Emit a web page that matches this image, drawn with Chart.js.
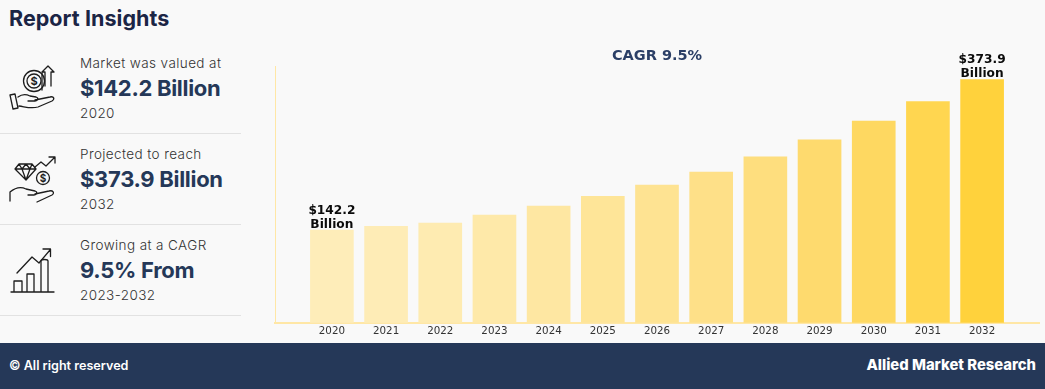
<!DOCTYPE html>
<html>
<head>
<meta charset="utf-8">
<script src="https://cdn.jsdelivr.net/npm/chart.js@4"></script>
<style>
html, body { margin: 0; padding: 0; background: #f9f9f9; }
body { width: 1045px; height: 389px; position: relative; overflow: hidden; font-family: Inter, sans-serif; }
.t { position: absolute; white-space: nowrap; line-height: 1; }
.head { left: 9px; top: 8px; font-size: 21.5px; font-weight: 700; color: #1b2545; letter-spacing: 0.05px; }
.small { left: 80px; font-size: 13.5px; font-weight: 300; color: #333; letter-spacing: 0.4px; }
.big { left: 80px; font-size: 22px; font-weight: 700; color: #253858; letter-spacing: -0.3px; }
.rule { position: absolute; left: 0; width: 241px; height: 1px; background: #e2e2e2; }
.icon { position: absolute; left: 8px; width: 48px; height: 48px; fill: none; stroke: #1d1d1d; stroke-width: 1.3; stroke-linecap: round; stroke-linejoin: round; }
#foot { position: absolute; left: 0; top: 343px; width: 1045px; height: 46px; background: #253858; }
#foot .t { color: #fff; font-weight: 600; }
#wrap { position: absolute; left: 270px; top: 40px; width: 775px; height: 300px; }
</style>
</head>
<body>
<div class="t head">Report Insights</div>

<svg class="icon" style="top:64px" viewBox="0 0 48 48">
  <circle cx="26" cy="17" r="10.5"/><circle cx="26" cy="17" r="7"/>
  <text x="26" y="21" font-size="11" font-weight="700" text-anchor="middle" fill="#1d1d1d" stroke="none">$</text>
  <path d="M37 22V8h-3l6-6 6 6h-3v14M34 26V9"/>
  <path d="M2 31l5-1 3 14-5 1zM10 33c4-3 8-3 12-1l6 1c3 1 2 4-1 4h-7M27 36l15-3c4-1 5 2 2 4l-14 6c-7 2-12 0-19-1"/>
</svg>
<svg class="icon" style="top:155px" viewBox="0 0 48 48">
  <path d="M11 9h13l4 5-10 11L7 14zM7 14h21M14 14l4 11 4-11M11 9l3 5 4-5 4 5 2-5"/>
  <path d="M27 12l6-5 5 4 9-9M41 2h6v6"/>
  <circle cx="35" cy="23" r="6.5"/>
  <text x="35" y="27" font-size="10" font-weight="700" text-anchor="middle" fill="#1d1d1d" stroke="none">$</text>
  <path d="M2 46V37c6-5 12-5 16-3l9 2c3 1 2 4-1 4h-6M27 39l14-3c4-1 6 2 3 4l-15 7"/>
</svg>
<svg class="icon" style="top:246px" viewBox="0 0 48 48">
  <path d="M3 46h43M6 46V35h8v11M19 46V28h7v18M33 46V15c0-2 7-2 7 0v31"/>
  <path d="M9 27l15-16 7 6 11-13M35 3h7.500v7.500"/>
</svg>

<div class="t small" style="top:57px">Market was valued at</div>
<div class="t big" style="top:77px">$142.2 Billion</div>
<div class="t small" style="top:107px">2020</div>
<div class="rule" style="top:133px"></div>

<div class="t small" style="top:148px">Projected to reach</div>
<div class="t big" style="top:168px">$373.9 Billion</div>
<div class="t small" style="top:198px">2032</div>
<div class="rule" style="top:224px"></div>

<div class="t small" style="top:239px">Growing at a CAGR</div>
<div class="t big" style="top:259px">9.5% From</div>
<div class="t small" style="top:289px">2023-2032</div>
<div class="rule" style="top:315px"></div>

<div id="wrap"><canvas id="marketChart"></canvas></div>

<div id="foot">
  <div class="t" style="left:9px;top:17px;font-size:12.6px">© All right reserved</div>
  <div class="t" style="right:9px;top:15px;font-size:14.8px;font-weight:800">Allied Market Research</div>
</div>

<script>
const years = ['2020', '2021', '2022', '2023', '2024', '2025', '2026', '2027', '2028', '2029', '2030', '2031', '2032'];
const revenue = [142.2, 148, 153, 165.5, 179.4, 194.4, 211.5, 231.6, 254.8, 281.2, 309.8, 340, 373.9];
const barColors = ['#feedb9', '#feecb6', '#feebb1', '#fee9a9', '#fee7a2', '#fee598', '#fee392', '#fee088', '#fede7e', '#feda6e', '#fed861', '#ffd650', '#ffd23c'];

// values shown above the first and last bars
const barLabels = {
    0: ['$142.2', 'Billion'],
    12: ['$373.9', 'Billion']
};

const barLabelPlugin = {
    id: 'barLabels',
    afterDatasetsDraw(chart) {
        const ctx = chart.ctx;
        const meta = chart.getDatasetMeta(0);
        ctx.save();
        ctx.font = 'bold 12.2px "DejaVu Sans"';
        ctx.fillStyle = '#0b0b0b';
        ctx.textAlign = 'center';
        Object.keys(barLabels).forEach(i => {
            const bar = meta.data[i];
            ctx.fillText(barLabels[i][0], bar.x, bar.y - 16);
            ctx.fillText(barLabels[i][1], bar.x, bar.y - 2);
        });
        ctx.restore();
    }
};

new Chart(document.getElementById('marketChart').getContext('2d'), {
    type: 'bar',
    data: {
        datasets: [{
            data: years.map((year, i) => ({ x: i, y: revenue[i] })),
            backgroundColor: barColors,
            barThickness: 43
        }]
    },
    options: {
        animation: false,
        responsive: true,
        maintainAspectRatio: false,
        layout: { padding: { left: 5, right: 6, top: 0, bottom: 0 } },
        plugins: {
            legend: { display: false },
            tooltip: { enabled: false },
            title: {
                display: true,
                text: 'CAGR 9.5%',
                color: '#2b3f66',
                font: { family: '"DejaVu Sans"', size: 14.5, weight: 'bold' },
                padding: { top: 8, bottom: 1 }
            }
        },
        scales: {
            x: {
                type: 'linear',
                min: -1.05,
                max: 13.05,
                offset: false,
                grid: { display: false, drawTicks: false },
                border: { color: '#ffe7a6', width: 2 },
                ticks: {
                    stepSize: 1,
                    includeBounds: false,
                    maxRotation: 0,
                    autoSkip: false,
                    padding: 2.5,
                    color: '#333',
                    font: { family: '"DejaVu Sans"', size: 10.3 },
                    callback: value => years[value] || ''
                }
            },
            y: {
                min: 0,
                max: 394,
                grid: { display: false, drawTicks: false },
                border: { color: '#ffe7a6', width: 1 },
                ticks: { display: false }
            }
        }
    },
    plugins: [barLabelPlugin]
});
</script>
</body>
</html>
